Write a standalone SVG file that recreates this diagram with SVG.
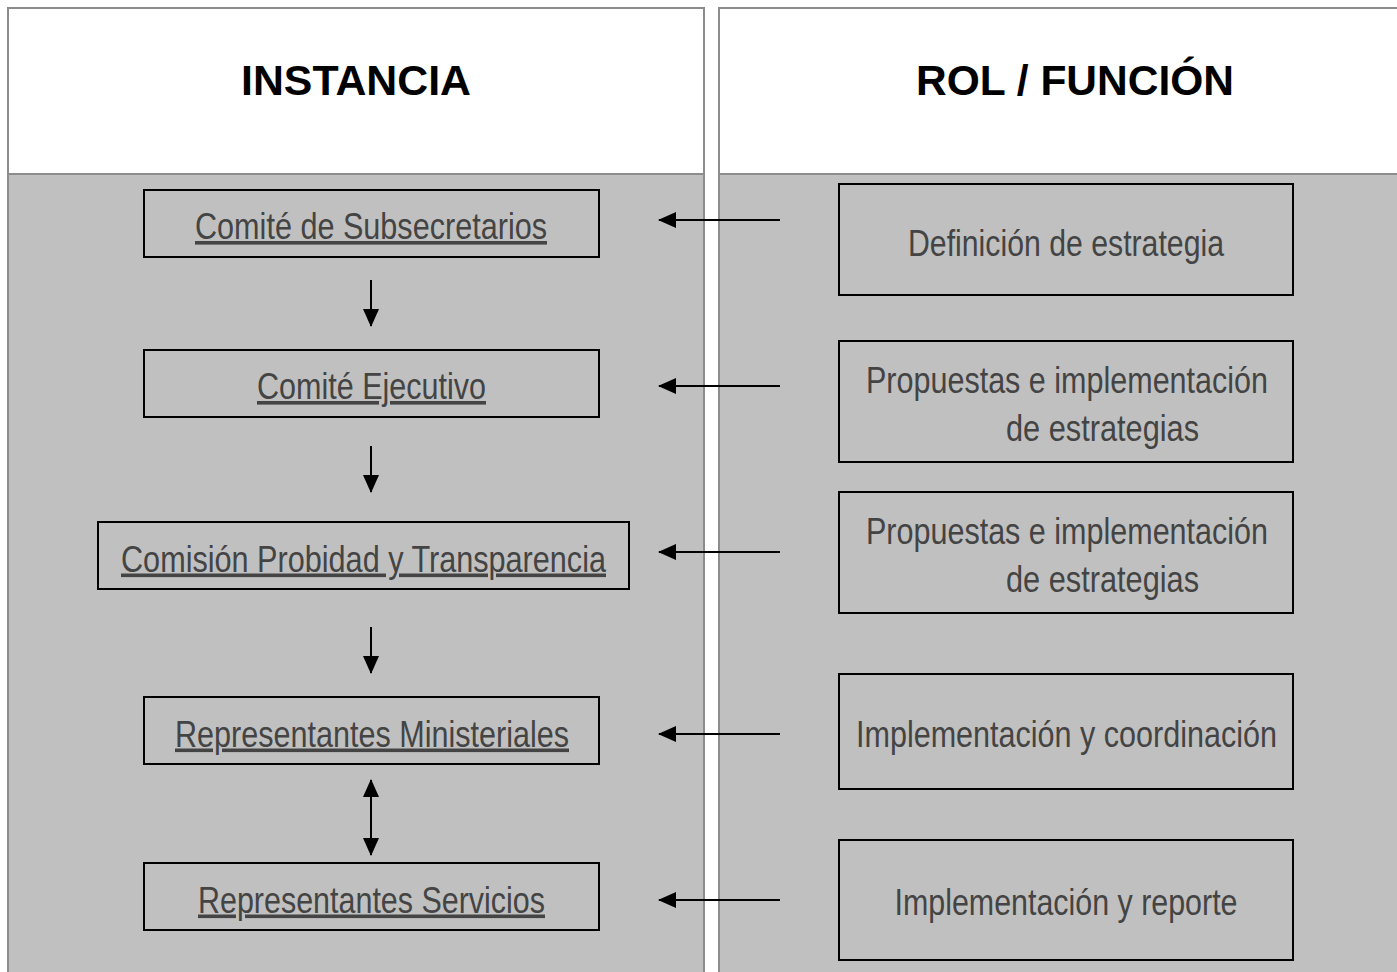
<svg xmlns="http://www.w3.org/2000/svg" width="1397" height="972" viewBox="0 0 1397 972">
<defs>
<style>
.panel{fill:#c0c0c0;stroke:#8c8c8c;stroke-width:2}
.head{fill:#ffffff;stroke:#8c8c8c;stroke-width:2}
.htxt{font-family:"Liberation Sans",Arial,sans-serif;font-weight:bold;font-size:42px;fill:#000;text-anchor:middle}
.box{fill:#c0c0c0;stroke:#000;stroke-width:2}
.t{font-family:"Liberation Sans Narrow","Arial Narrow","Liberation Sans",sans-serif;font-size:36px;fill:#444;text-anchor:middle}
.u{text-decoration:underline}
.c{stroke:#000;stroke-width:2;fill:none}
</style>
<marker id="ah" markerUnits="userSpaceOnUse" markerWidth="18" markerHeight="16" viewBox="0 0 18 16" refX="17" refY="8" orient="auto-start-reverse">
<path d="M0,0 L18,8 L0,16 Z" fill="#000"/>
</marker>
</defs>

<g id="col-instancia">
<rect class="panel" x="8" y="8" width="696" height="980"/>
<rect class="head" x="8" y="8" width="696" height="166"/>
<text class="htxt" x="356" y="95" textLength="230" lengthAdjust="spacingAndGlyphs">INSTANCIA</text>
</g>
<g id="col-rol">
<rect class="panel" x="719" y="8" width="700" height="980"/>
<rect class="head" x="719" y="8" width="700" height="166"/>
<text class="htxt" x="1075" y="95" textLength="318" lengthAdjust="spacingAndGlyphs">ROL / FUNCIÓN</text>
</g>

<g id="n-subsecretarios">
<rect class="box" x="144" y="190" width="455" height="67"/>
<text class="t u" x="371" y="239" textLength="352" lengthAdjust="spacingAndGlyphs">Comité de Subsecretarios</text>
</g>
<g id="n-ejecutivo">
<rect class="box" x="144" y="350" width="455" height="67"/>
<text class="t u" x="371.5" y="399" textLength="229" lengthAdjust="spacingAndGlyphs">Comité Ejecutivo</text>
</g>
<g id="n-comision">
<rect class="box" x="98" y="522" width="531" height="67"/>
<text class="t u" x="363.5" y="571.5" textLength="485" lengthAdjust="spacingAndGlyphs">Comisión Probidad y Transparencia</text>
</g>
<g id="n-ministeriales">
<rect class="box" x="144" y="697" width="455" height="67"/>
<text class="t u" x="372" y="746.5" textLength="394" lengthAdjust="spacingAndGlyphs">Representantes Ministeriales</text>
</g>
<g id="n-servicios">
<rect class="box" x="144" y="863" width="455" height="67"/>
<text class="t u" x="371.5" y="912.5" textLength="347" lengthAdjust="spacingAndGlyphs">Representantes Servicios</text>
</g>

<g id="r-definicion">
<rect class="box" x="839" y="184" width="454" height="111"/>
<text class="t" x="1066" y="256" textLength="316" lengthAdjust="spacingAndGlyphs">Definición de estrategia</text>
</g>
<g id="r-propuestas1">
<rect class="box" x="839" y="341" width="454" height="121"/>
<text class="t" x="1067" y="393" textLength="402" lengthAdjust="spacingAndGlyphs">Propuestas e implementación</text>
<text class="t" x="1102.5" y="441" textLength="193" lengthAdjust="spacingAndGlyphs">de estrategias</text>
</g>
<g id="r-propuestas2">
<rect class="box" x="839" y="492" width="454" height="121"/>
<text class="t" x="1067" y="544" textLength="402" lengthAdjust="spacingAndGlyphs">Propuestas e implementación</text>
<text class="t" x="1102.5" y="592" textLength="193" lengthAdjust="spacingAndGlyphs">de estrategias</text>
</g>
<g id="r-coordinacion">
<rect class="box" x="839" y="674" width="454" height="115"/>
<text class="t" x="1066.5" y="747" textLength="421" lengthAdjust="spacingAndGlyphs">Implementación y coordinación</text>
</g>
<g id="r-reporte">
<rect class="box" x="839" y="840" width="454" height="120"/>
<text class="t" x="1066" y="915" textLength="343" lengthAdjust="spacingAndGlyphs">Implementación y reporte</text>
</g>

<g id="connectors">
<line class="c" x1="371" y1="280" x2="371" y2="326" marker-end="url(#ah)"/>
<line class="c" x1="371" y1="446" x2="371" y2="492" marker-end="url(#ah)"/>
<line class="c" x1="371" y1="627" x2="371" y2="673" marker-end="url(#ah)"/>
<line class="c" x1="371" y1="780" x2="371" y2="855" marker-start="url(#ah)" marker-end="url(#ah)"/>
<line class="c" x1="780" y1="220" x2="659" y2="220" marker-end="url(#ah)"/>
<line class="c" x1="780" y1="386" x2="659" y2="386" marker-end="url(#ah)"/>
<line class="c" x1="780" y1="552" x2="659" y2="552" marker-end="url(#ah)"/>
<line class="c" x1="780" y1="734" x2="659" y2="734" marker-end="url(#ah)"/>
<line class="c" x1="780" y1="900" x2="659" y2="900" marker-end="url(#ah)"/>
</g>
</svg>
